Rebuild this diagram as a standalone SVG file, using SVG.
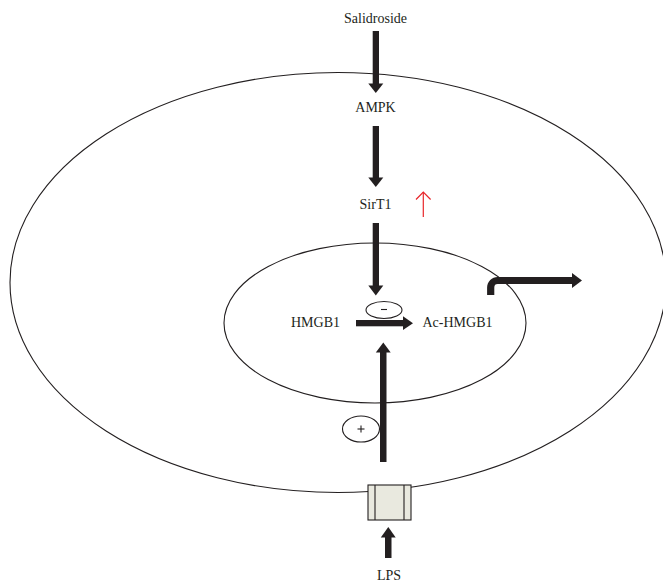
<svg xmlns="http://www.w3.org/2000/svg" width="663" height="582" viewBox="0 0 663 582">
  <style>
    .lbl { font-family: "Liberation Serif", "Times New Roman", serif; font-size: 14px; fill: #231f20; text-anchor: middle; }
    .mem { fill: none; stroke: #231f20; stroke-width: 1.1; }
    .blk { fill: #231f20; }
    .thin { fill: none; stroke: #231f20; stroke-width: 1.1; }
  </style>

  <!-- cell membrane and nucleus -->
  <g id="cell">
    <ellipse class="mem" cx="338" cy="282.5" rx="328" ry="210"/>
  </g>
  <g id="nucleus">
    <ellipse class="mem" cx="375" cy="323" rx="151" ry="80"/>
  </g>

  <!-- signalling arrows -->
  <g id="connectors">
    <!-- Salidroside -> AMPK -->
    <rect class="blk" x="372.7" y="31" width="6.3" height="53"/>
    <polygon class="blk" points="368.3,83.5 383.3,83.5 375.8,93"/>
    <!-- AMPK -> SirT1 -->
    <rect class="blk" x="372.7" y="126" width="6.3" height="52"/>
    <polygon class="blk" points="368.3,177.5 383.3,177.5 375.8,187"/>
    <!-- SirT1 -> nucleus -->
    <rect class="blk" x="372.7" y="223" width="6.3" height="63"/>
    <polygon class="blk" points="368.3,285.5 383.3,285.5 375.8,295.5"/>
    <!-- HMGB1 -> Ac-HMGB1 -->
    <rect class="blk" x="356" y="320" width="48" height="6.3"/>
    <polygon class="blk" points="403,316.3 403,330 413,323.2"/>
    <!-- receptor -> acetylation -->
    <rect class="blk" x="380" y="352" width="6.5" height="110"/>
    <polygon class="blk" points="375.8,352.5 390.7,352.5 383.3,342.5"/>
    <!-- export of Ac-HMGB1 -->
    <path d="M490.7 295 V287.5 A7 7 0 0 1 497.7 280.5 H573" fill="none" stroke="#231f20" stroke-width="7.2"/>
    <polygon class="blk" points="572,273 572,288 582,280.5"/>
    <!-- LPS -> receptor -->
    <rect class="blk" x="385" y="537" width="6.5" height="21"/>
    <polygon class="blk" points="380.8,537.5 395.7,537.5 388.3,527"/>
    <!-- upregulation mark -->
    <g stroke="#e8262a" stroke-width="1.2" fill="none">
      <line x1="423.3" y1="217" x2="423.3" y2="192"/>
      <polyline points="416,199.5 423.3,192 430.6,199.5"/>
    </g>
  </g>

  <!-- receptor channel -->
  <g id="receptor">
    <rect x="368" y="485" width="43" height="35" fill="#e9e9df" stroke="#231f20" stroke-width="1.1"/>
    <line class="thin" x1="375" y1="485" x2="375" y2="520"/>
    <line class="thin" x1="404" y1="485" x2="404" y2="520"/>
  </g>

  <!-- inhibition / activation markers -->
  <g id="minus">
    <ellipse class="thin" cx="384" cy="310" rx="18" ry="8.5" fill="#fff"/>
    <line class="thin" x1="381" y1="309.5" x2="387" y2="309.5"/>
  </g>
  <g id="plus">
    <ellipse class="thin" cx="361" cy="429" rx="18.5" ry="13" fill="none"/>
    <line class="thin" x1="357.5" y1="429" x2="364.5" y2="429"/>
    <line class="thin" x1="361" y1="425.5" x2="361" y2="432.5"/>
  </g>

  <!-- labels -->
  <g id="salidroside"><text class="lbl" x="375.5" y="23">Salidroside</text></g>
  <g id="ampk"><text class="lbl" x="375.5" y="111.5">AMPK</text></g>
  <g id="sirt1"><text class="lbl" x="375.5" y="209">SirT1</text></g>
  <g id="hmgb1"><text class="lbl" x="315.5" y="326.5">HMGB1</text></g>
  <g id="ac-hmgb1"><text class="lbl" x="457.5" y="326.5">Ac-HMGB1</text></g>
  <g id="lps"><text class="lbl" x="389" y="580">LPS</text></g>
</svg>
